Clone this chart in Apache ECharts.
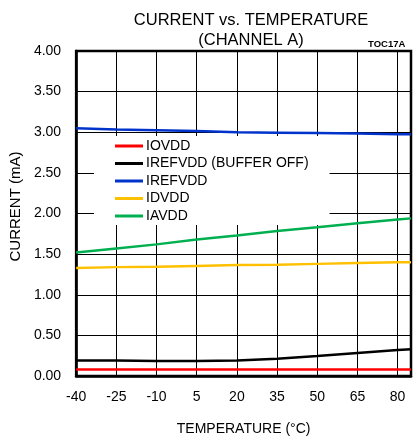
<!DOCTYPE html>
<html>
<head>
<meta charset="utf-8">
<script src="https://cdn.jsdelivr.net/npm/echarts@6/dist/echarts.min.js"></script>
<style>
  html, body { margin: 0; padding: 0; background: #fff; }
  #chart { width: 414px; height: 441px; }
</style>
</head>
<body>
<div id="chart"></div>
<script>
// temperatures (°C) and currents (mA)
const temps = [-40, -25, -10, 5, 20, 35, 50, 65, 80, 85];
const iovdd = [0.08, 0.08, 0.08, 0.08, 0.08, 0.08, 0.08, 0.08, 0.08, 0.08];
const irefvddOff = [0.19, 0.19, 0.185, 0.185, 0.19, 0.213, 0.246, 0.283, 0.32, 0.33];
const irefvdd = [3.05, 3.035, 3.025, 3.015, 3.0, 2.995, 2.99, 2.985, 2.975, 2.975];
const idvdd = [1.33, 1.34, 1.345, 1.355, 1.365, 1.37, 1.38, 1.39, 1.40, 1.40];
const iavdd = [1.52, 1.57, 1.62, 1.68, 1.73, 1.785, 1.83, 1.88, 1.925, 1.94];

const names = ['IOVDD', 'IREFVDD (BUFFER OFF)', 'IREFVDD', 'IDVDD', 'IAVDD'];
const colors = ['#ff0000', '#000000', '#0033cc', '#ffc000', '#00b050'];
const values = [iovdd, irefvddOff, irefvdd, idvdd, iavdd];

const font = '"Liberation Sans", Arial, sans-serif';

const chart = echarts.init(document.getElementById('chart'));

const series = names.map(function (n, i) {
  return {
    name: n,
    type: 'line',
    symbol: 'none',
    data: temps.map(function (t, k) { return [t, values[i][k]]; }),
    lineStyle: { color: colors[i], width: 2.5 },
    itemStyle: { color: colors[i] },
    z: 5
  };
});

chart.setOption({
  animation: false,
  title: [
    {
      text: 'CURRENT vs. TEMPERATURE\n(CHANNEL A)',
      left: 246, top: 5, textAlign: 'center',
      textStyle: { fontFamily: font, fontSize: 16.5, fontWeight: 'normal', color: '#000', lineHeight: 20 }
    },
    {
      text: 'TOC17A',
      left: 368, top: 39, padding: 0,
      textStyle: { fontFamily: font, fontSize: 9.5, fontWeight: 'bold', color: '#000' }
    }
  ],
  grid: {
    left: 74, right: 3, top: 51, bottom: 65,
    show: true, borderColor: '#000', borderWidth: 2.5
  },
  legend: {
    data: names,
    orient: 'vertical',
    left: 94, top: 136,
    padding: [3, 21, 2, 21],
    backgroundColor: '#fff',
    icon: 'rect',
    itemWidth: 28, itemHeight: 3, itemGap: 3.5,
    textStyle: { fontFamily: font, fontSize: 14, color: '#000', lineHeight: 14, padding: [0, 0, 0, -2] }
  },
  xAxis: {
    type: 'value',
    min: -40, max: 85, interval: 15,
    name: 'TEMPERATURE (°C)',
    nameLocation: 'middle', nameGap: 46,
    nameTextStyle: { fontFamily: font, fontSize: 14, color: '#000' },
    axisLine: { show: true, onZero: false, lineStyle: { color: '#000', width: 2.5 } },
    axisTick: { show: false },
    axisLabel: { fontFamily: font, fontSize: 14, color: '#000', margin: 14, showMaxLabel: false },
    splitLine: { show: true, lineStyle: { color: '#000', width: 1 } }
  },
  yAxis: {
    type: 'value',
    min: 0, max: 4, interval: 0.5,
    name: 'CURRENT (mA)',
    nameLocation: 'middle', nameGap: 48,
    nameTextStyle: { fontFamily: font, fontSize: 15, color: '#000', padding: [0, 0, 0, 14] },
    axisLine: { show: true, onZero: false, lineStyle: { color: '#000', width: 2.5 } },
    axisTick: { show: false },
    axisLabel: {
      fontFamily: font, fontSize: 14, color: '#000', margin: 15,
      formatter: function (v) { return v.toFixed(2); }
    },
    splitLine: { show: true, lineStyle: { color: '#000', width: 1 } }
  },
  series: series
});
</script>
</body>
</html>
